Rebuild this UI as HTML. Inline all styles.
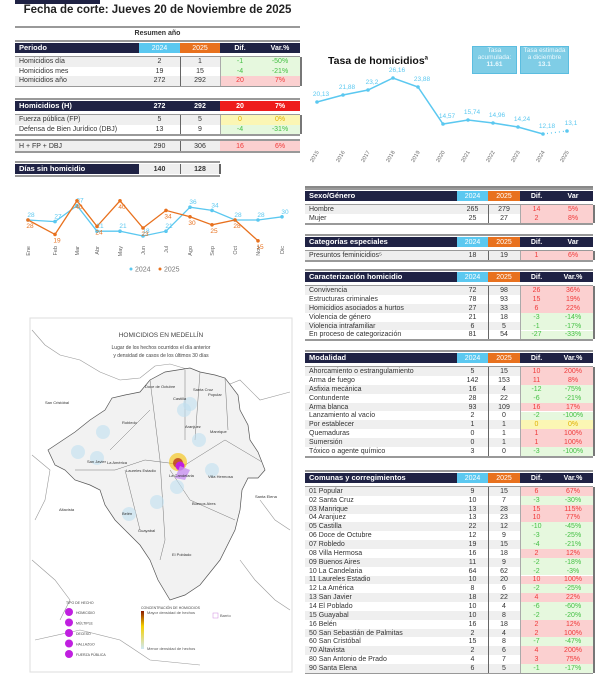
<!DOCTYPE html>
<html><head><meta charset="utf-8"><style>
body{margin:0;width:600px;height:700px;background:#fff;position:relative;overflow:hidden;font-family:"Liberation Sans",sans-serif;color:#333}
.a{position:absolute}
.c{position:absolute;font-size:7px;line-height:1;display:flex;align-items:center;white-space:nowrap}
.hd{background:#1f2244;color:#fff;font-weight:bold}
</style></head><body>
<div class="a" style="left:15px;top:0;width:85px;height:4px;background:#1f2244"></div>
<div class="a" style="left:15px;top:4px;width:285px;text-align:center;font-size:11.5px;font-weight:bold;color:#222">Fecha de corte: Jueves 20 de Noviembre de 2025</div>
<div class="a" style="left:15px;top:26px;width:285px;height:2px;background:#999"></div>
<div class="a" style="left:15px;top:30px;width:285px;text-align:center;font-size:7px;font-weight:bold">Resumen año</div>
<div class="a" style="left:328px;top:55px;font-size:10.5px;font-weight:bold;color:#111">Tasa de homicidios<sup style="font-size:6px">a</sup></div>
<div class="a" style="left:472px;top:46px;width:43px;height:26px;background:#7fcde6;border:1px solid #5bbde0;color:#eaf8fd;font-size:6.5px;text-align:center;line-height:7px">Tasa<br>acumulada:<br><b>11.61</b></div>
<div class="a" style="left:520px;top:46px;width:47px;height:26px;background:#7fcde6;border:1px solid #5bbde0;color:#eaf8fd;font-size:6.5px;text-align:center;line-height:7px">Tasa estimada<br>a diciembre<br><b>13.1</b></div>
<div class="a" style="left:305px;top:186px;width:288px;height:2px;background:#888"></div>
<svg class="a" style="left:0;top:0" width="600" height="700" id="sv"></svg>
<div id="root"></div>
<script>
const R=document.getElementById('root');
function c(x,y,w,h,t,st){const d=document.createElement('div');d.className='c';d.style.cssText=`left:${x}px;top:${y}px;width:${w}px;height:${h}px;`+(st||'');d.textContent=t;R.appendChild(d);return d;}
const RED='background:#fbd0d0;color:#f03a3a;',GRN='background:#e6f8de;color:#45c045;',YEL='background:#fbf6b4;color:#e0b000;';
function cls(v){v=String(v);if(v.startsWith('-'))return GRN;if(v=='0'||v=='0%')return YEL;return RED;}
function tbl(X,y,hdr,rows,rh,opt){
 const [x0,x1,x2,x3,x4,x5]=X;
 c(x0,y,x5-x0,10,'','');R.lastChild.className='c hd';
 c(x0+4,y,x1-x0,10,hdr[0],'color:#fff;font-weight:bold;font-size:7.5px');
 c(x1,y,x2-x1,10,hdr[1],(opt&&opt.hdcol?'':'background:#5bc8f0;')+'color:#fff;justify-content:center;'+(opt&&opt.hdcol?'font-weight:bold;':''));
 c(x2,y,x3-x2,10,hdr[2],(opt&&opt.hdcol?'':'background:#e8711e;')+'color:#fff;justify-content:center;'+(opt&&opt.hdcol?'font-weight:bold;':''));
 if(hdr[3]!==undefined){c(x3,y,x4-x3,10,hdr[3],'color:#fff;justify-content:center;font-weight:bold;'+(opt&&opt.hdcol?'background:#ee1c1c;':''));
 c(x4,y,x5-x4,10,hdr[4],'color:#fff;justify-content:center;font-weight:bold;'+(opt&&opt.hdcol?'background:#ee1c1c;':''));}
 c(x0,y-3,x5-x0,1.5,'','background:#999');
 if(!rows)return;
 let ry=y+14;
 c(x0,ry-1.5,x5-x0,1.5,'','background:#999');
 rows.forEach((r,i)=>{const yy=ry+i*rh;const bg=i%2==0?'background:#efefef;':'';
  c(x0,yy,x3-x0,rh,'',bg);
  c(x0+4,yy,x1-x0,rh,r[0],'color:#333');
  c(x1,yy,x2-x1,rh,r[1],'justify-content:center');
  c(x2,yy,x3-x2,rh,r[2],'justify-content:center');
  c(x3,yy,x4-x3,rh,r[3],cls(r[3])+'justify-content:center');
  c(x4,yy,x5-x4,rh,r[4],cls(r[4])+'justify-content:center');});
 const h=rows.length*rh;
 c(x2,ry,1.2,h,'','background:#666');c(x3,ry,1,h,'','background:#aaa');c(x5,ry,1.5,h,'','background:#777');
 c(x0,ry+h,x5-x0,1.5,'','background:#999');
}
const L=[15,139,180,220,260,300];
tbl(L,43,['Periodo','2024','2025','Dif.','Var.%'],[['Homicidios día',2,1,'-1','-50%'],['Homicidios mes',19,15,'-4','-21%'],['Homicidios año',272,292,'20','7%']],9.5);
tbl(L,101,['Homicidios (H)','272','292','20','7%'],[['Fuerza pública (FP)',5,5,'0','0%'],['Defensa de Bien Jurídico (DBJ)',13,9,'-4','-31%']],9.5,{hdcol:1});
c(15,141,285,10,'','background:#efefef');c(19,141,120,10,'H + FP + DBJ');c(139,141,41,10,'290','justify-content:center');c(180,141,40,10,'306','justify-content:center');
c(220,141,40,10,'16',RED+'justify-content:center');c(260,141,40,10,'6%',RED+'justify-content:center');c(15,139,285,1.5,'','background:#999');c(15,151,285,1.5,'','background:#999');c(180,141,1.2,10,'','background:#666');
c(15,164,124,10,'Días sin homicidio','background:#1f2244;color:#fff;font-weight:bold;padding-left:4px;box-sizing:border-box;font-size:7.5px');
c(139,164,41,10,'140','background:#efefef;justify-content:center;font-weight:bold');c(180,164,40,10,'128','background:#efefef;justify-content:center;font-weight:bold');c(15,161,205,1.5,'','background:#999');c(15,175,205,1.5,'','background:#999');c(180,164,1.2,10,'','background:#666');c(219,164,1.5,10,'','background:#666');
const Rx=[305,457,488,520,553,593];
tbl(Rx,191,['Sexo/Género','2024','2025','Dif.','Var'],[['Hombre',265,279,'14','5%'],['Mujer',25,27,'2','8%']],9);
tbl(Rx,237,['Categorías especiales','2024','2025','Dif.','Var'],[['Presuntos feminicidios⁵',18,19,'1','6%']],9);
tbl(Rx,272,['Caracterización homicidio','2024','2025','Dif.','Var.%'],[['Convivencia',72,98,'26','36%'],['Estructuras criminales',78,93,'15','19%'],['Homicidios asociados a hurtos',27,33,'6','22%'],['Violencia de género',21,18,'-3','-14%'],['Violencia intrafamiliar',6,5,'-1','-17%'],['En proceso de categorización',81,54,'-27','-33%']],8.9);
tbl(Rx,353,['Modalidad','2024','2025','Dif.','Var.%'],[['Ahorcamiento o estrangulamiento',5,15,'10','200%'],['Arma de fuego',142,153,'11','8%'],['Asfixia mecánica',16,4,'-12','-75%'],['Contundente',28,22,'-6','-21%'],['Arma blanca',93,109,'16','17%'],['Lanzamiento al vacío',2,0,'-2','-100%'],['Por establecer',1,1,'0','0%'],['Quemaduras',0,1,'1','100%'],['Sumersión',0,1,'1','100%'],['Tóxico o agente químico',3,0,'-3','-100%']],8.9);
tbl(Rx,473,['Comunas y corregimientos','2024','2025','Dif.','Var.%'],[['01 Popular',9,15,'6','67%'],['02 Santa Cruz',10,7,'-3','-30%'],['03 Manrique',13,28,'15','115%'],['04 Aranjuez',13,23,'10','77%'],['05 Castilla',22,12,'-10','-45%'],['06 Doce de Octubre',12,9,'-3','-25%'],['07 Robledo',19,15,'-4','-21%'],['08 Villa Hermosa',16,18,'2','12%'],['09 Buenos Aires',11,9,'-2','-18%'],['10 La Candelaria',64,62,'-2','-3%'],['11 Laureles Estadio',10,20,'10','100%'],['12 La América',8,6,'-2','-25%'],['13 San Javier',18,22,'4','22%'],['14 El Poblado',10,4,'-6','-60%'],['15 Guayabal',10,8,'-2','-20%'],['16 Belén',16,18,'2','12%'],['50 San Sebastián de Palmitas',2,4,'2','100%'],['60 San Cristóbal',15,8,'-7','-47%'],['70 Altavista',2,6,'4','200%'],['80 San Antonio de Prado',4,7,'3','75%'],['90 Santa Elena',6,5,'-1','-17%']],8.85);

const S=document.getElementById('sv');let s='';
const BL='#5bc8f0',OR='#e8711e';
const tx=[317,343,368,393,418,443,468,493,518,543,567],ty=[102,95,90,78,87,124,120,123,127,134,131],tv=['20,13','21,88','23,2','26,16','23,88','14,57','15,74','14,96','14,24','12,18','13,1'];
s+=`<polyline points="${tx.slice(0,10).map((x,i)=>x+','+ty[i]).join(' ')}" fill="none" stroke="${BL}" stroke-width="1.5"/>`;
s+=`<line x1="543" y1="134" x2="567" y2="131" stroke="${BL}" stroke-width="1.2" stroke-dasharray="1,3"/>`;
tx.forEach((x,i)=>{s+=`<circle cx="${x}" cy="${ty[i]}" r="1.8" fill="${BL}"/><text x="${x+4}" y="${ty[i]-6}" font-size="6.5" fill="${BL}" text-anchor="middle">${tv[i]}</text>`;
 s+=`<text transform="translate(${x+2},${152}) rotate(-60)" font-size="5.5" fill="#666" text-anchor="end">${2015+i}</text>`;});
const mx=[28,55,77,97,120,143,166,190,212,235,258,282],mn=['Ene','Feb','Mar','Abr','May','Jun','Jul','Ago','Sep','Oct','Nov','Dic'];
const a=[28,27,37,21,21,18,21,36,34,28,28,30],b=[28,19,40,24,40,23,34,30,25,28,15];
const Y=v=>220-(v-28)*1.6;
s+=`<polyline points="${a.map((v,i)=>mx[i]+','+Y(v)).join(' ')}" fill="none" stroke="${BL}" stroke-width="1.3"/>`;
s+=`<polyline points="${b.map((v,i)=>mx[i]+','+Y(v)).join(' ')}" fill="none" stroke="${OR}" stroke-width="1.3"/>`;
a.forEach((v,i)=>{s+=`<circle cx="${mx[i]}" cy="${Y(v)}" r="1.8" fill="${BL}"/><text x="${mx[i]+3}" y="${Y(v)-3}" font-size="6.5" fill="${BL}" text-anchor="middle">${v}</text>`});
b.forEach((v,i)=>{s+=`<circle cx="${mx[i]}" cy="${Y(v)}" r="1.8" fill="${OR}"/><text x="${mx[i]+2}" y="${Y(v)+8}" font-size="6.5" fill="${OR}" text-anchor="middle">${v}</text>`});
mn.forEach((m,i)=>{s+=`<text transform="translate(${mx[i]+2},${246}) rotate(-90)" font-size="5.5" fill="#666" text-anchor="end">${m}</text>`});
s+=`<circle cx="131" cy="269" r="1.5" fill="${BL}"/><text x="135" y="271.5" font-size="7" fill="#777">2024</text><circle cx="160" cy="269" r="1.5" fill="${OR}"/><text x="164" y="271.5" font-size="7" fill="#777">2025</text>`;
// map
s+=`<rect x="30" y="318" width="262" height="354" fill="#fff" stroke="#ddd"/>`;
s+=`<path d="M32 330 L45 345 L60 355 L80 360 L100 372 L120 380 L140 378 L155 366 L170 364 L190 370 M32 455 L50 470 L45 500 L35 520 M32 560 L55 580 L70 600 L60 620 M215 390 L240 380 L260 400 L290 392 M260 500 L275 520 L290 530 M240 560 L255 580 L275 600 L290 610 M35 640 L80 630 L120 640 L150 660 L200 665" fill="none" stroke="#999" stroke-width="0.6"/>`;
s+=`<path d="M48 450 L75 432 L90 420 L105 410 L112 398 L125 395 L140 392 L150 380 L165 372 L190 368 L200 372 L215 375 L225 378 L238 395 L240 410 L248 425 L250 440 L258 452 L265 470 L258 478 L248 478 L242 490 L240 510 L235 530 L220 560 L200 585 L185 595 L170 600 L158 580 L150 560 L140 545 L125 530 L115 520 L105 505 L100 490 L90 485 L75 480 L65 470 L55 465 Z" fill="#f2f2f2" stroke="#555" stroke-width="0.7"/>`;
s+=`<path d="M150 380 L160 460 L165 540 L160 560 M75 470 L115 470 L145 460 L185 465 L225 440 L262 462 M185 370 L185 440 M200 372 L195 440 M225 378 L228 430 M110 450 L150 410 M125 470 L140 530 M170 470 L190 500 L235 520" fill="none" stroke="#777" stroke-width="0.5"/>`;
s+=`<circle cx="178" cy="462" r="9" fill="#f5c000" opacity=".6"/><circle cx="178" cy="463" r="5" fill="#b83a1a" opacity=".8"/><circle cx="180" cy="466" r="4.5" fill="#c020e0"/><path d="M180 466 L190 470 L185 480 L175 478 Z" fill="#c890f0" opacity=".8"/>`;
[[78,452],[97,458],[103,432],[190,404],[199,440],[212,470],[184,410],[177,487],[157,502],[129,514]].forEach(p=>s+=`<circle cx="${p[0]}" cy="${p[1]}" r="7" fill="#bfe0f0" opacity=".6"/>`);
s+=`<text x="161" y="337" font-size="6.5" fill="#444" text-anchor="middle">HOMICIDIOS EN MEDELLÍN</text><text x="161" y="349" font-size="5" fill="#444" text-anchor="middle">Lugar de los hechos ocurridos el día anterior</text><text x="161" y="357" font-size="5" fill="#444" text-anchor="middle">y densidad de casos de los últimos 30 días</text>`;
[['San Cristóbal',45,404],['Doce de Octubre',145,388],['Santa Cruz',193,391],['Popular',208,396],['Castilla',173,400],['Robledo',122,424],['Aranjuez',185,428],['Manrique',210,433],['San Javier',87,463],['La América',107,464],['Laureles Estadio',126,472],['La Candelaria',169,477],['Villa Hermosa',208,478],['Santa Elena',255,498],['Buenos Aires',192,505],['Altavista',59,511],['Belén',122,515],['Guayabal',138,532],['El Poblado',172,556]].forEach(t=>s+=`<text x="${t[1]}" y="${t[2]}" font-size="4" fill="#333">${t[0]}</text>`);
['HOMICIDIO','MÚLTIPLE','DECESO','HALLAZGO','FUERZA PÚBLICA'].forEach((t,i)=>s+=`<circle cx="69" cy="${612+i*10.5}" r="4" fill="#c020e0"/><text x="76" y="${614+i*10.5}" font-size="3.5" fill="#444">${t}</text>`);
s+=`<text x="66" y="604" font-size="3.5" fill="#444">TIPO DE HECHO</text>`;
s+=`<defs><linearGradient id="g" x1="0" y1="0" x2="0" y2="1"><stop offset="0" stop-color="#8b1a00"/><stop offset=".4" stop-color="#f5d000"/><stop offset="1" stop-color="#cfe8f5"/></linearGradient></defs><rect x="141" y="611" width="3" height="38" fill="url(#g)"/><text x="141" y="609" font-size="3.5" fill="#444">CONCENTRACIÓN DE HOMICIDIOS</text><text x="147" y="614" font-size="4" fill="#555">Mayor densidad de hechos</text><text x="147" y="650" font-size="4" fill="#555">Menor densidad de hechos</text><rect x="213" y="613" width="5" height="5" fill="none" stroke="#d08ae0" stroke-width=".5"/><text x="220" y="617" font-size="4" fill="#555">Barrio</text>`;
S.innerHTML=s;
</script>
</body></html>
